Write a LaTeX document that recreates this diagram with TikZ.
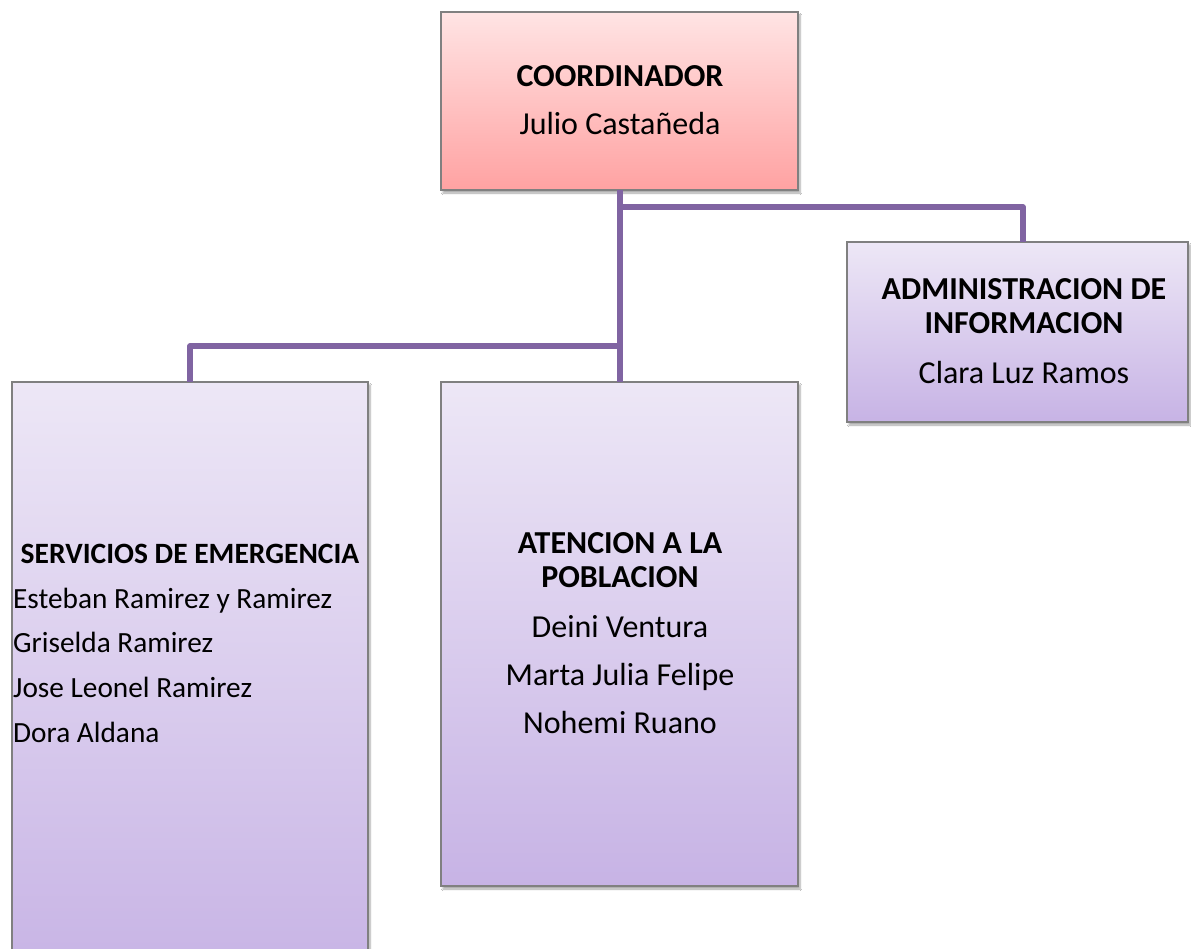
\documentclass[tikz,border=0pt]{standalone}
\usepackage{fontspec}
\setmainfont{Carlito}
\usetikzlibrary{shadows.blur}
\definecolor{conncol}{HTML}{8064A2}
\definecolor{pinktop}{HTML}{FFE4E4}
\definecolor{pinkbot}{HTML}{FFA2A2}
\definecolor{lavtop}{HTML}{EDE7F6}
\definecolor{lavbot}{HTML}{C7B3E5}
\definecolor{bordercol}{HTML}{808080}
\tikzset{
  box/.style={rectangle, draw=bordercol, line width=1.2pt, inner sep=0pt, outer sep=0pt,
    anchor=north west, blur shadow={shadow xshift=2pt, shadow yshift=-3pt, shadow blur steps=6, shadow opacity=35, shadow blur extra rounding=0pt}},
  pinkbox/.style={box, top color=pinktop, bottom color=pinkbot},
  lavbox/.style={box, top color=lavtop, bottom color=lavbot},
  conn/.style={draw=conncol, line width=5.5pt, line join=round},
  ttl/.style={font=\fontsize{32}{38}\selectfont\bfseries, inner sep=0pt, anchor=base},
  nm/.style={font=\fontsize{32}{38}\selectfont, inner sep=0pt, anchor=base},
  sttl/.style={font=\fontsize{29.5}{36}\selectfont\bfseries, inner sep=0pt, anchor=base},
  snml/.style={font=\fontsize{29.3}{36}\selectfont, inner sep=0pt, anchor=base west},
}
\begin{document}
\begin{tikzpicture}[x=1pt,y=-1pt]
\clip (0,0) rectangle (1191,949);
\fill[white] (0,0) rectangle (1191,949);

\coordinate (j1) at (620,207);
\coordinate (j2) at (620,346);

% boxes
\node[pinkbox, minimum width=357pt, minimum height=178pt] (coord) at (441,12) {};
\node[lavbox, minimum width=341pt, minimum height=180pt] (admin) at (847,242) {};
\node[lavbox, minimum width=356pt, minimum height=600pt] (serv) at (12,382) {};
\node[lavbox, minimum width=357pt, minimum height=504pt] (mid) at (441,382) {};

% connectors
\coordinate (adrop) at ([xshift=176pt]admin.north west);
\draw[conn] (coord.south -| j1) -- (mid.north -| j1);
\draw[conn] (j1) -| (adrop);
\draw[conn] (j2) -| (serv.north);

% texts
\node[ttl] (t1) at (620,87) {COORDINADOR};
\node[nm]  (t2) at (620,135) {Julio Castañeda};

\node[ttl] (a1) at (1024,300) {ADMINISTRACION DE};
\node[ttl] (a2) at (1024,334) {INFORMACION};
\node[nm]  (a3) at (1024,384) {Clara Luz Ramos};

\node[sttl] (s0) at (190,563) {SERVICIOS DE EMERGENCIA};
\node[snml] (s1) at (13,608) {Esteban Ramirez y Ramirez};
\node[snml] (s2) at (13,652) {Griselda Ramirez};
\node[snml] (s3) at (13,697) {Jose Leonel Ramirez};
\node[snml] (s4) at (13,742) {Dora Aldana};

\node[ttl] (m1) at (620,553) {ATENCION A LA};
\node[ttl] (m2) at (620,587) {POBLACION};
\node[nm]  (m3) at (620,637) {Deini Ventura};
\node[nm]  (m4) at (620,685) {Marta Julia Felipe};
\node[nm]  (m5) at (620,733) {Nohemi Ruano};
\end{tikzpicture}
\end{document}
